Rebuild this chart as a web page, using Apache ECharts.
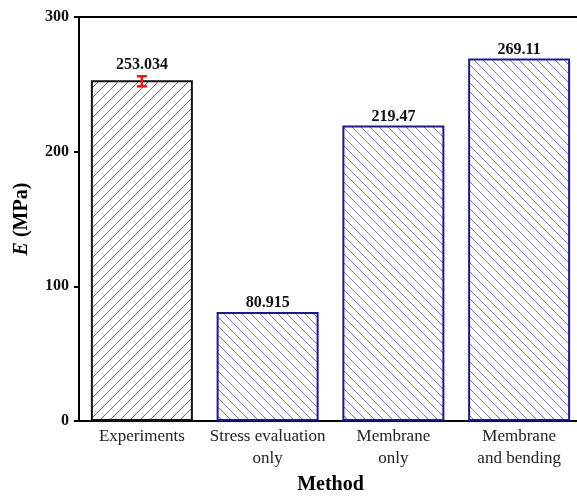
<!DOCTYPE html>
<html>
<head>
<meta charset="utf-8">
<script src="https://cdn.jsdelivr.net/npm/echarts@6/dist/echarts.min.js"></script>
<style>
  html, body { margin: 0; padding: 0; background: #fff; }
  #chart { width: 577px; height: 496px; }
</style>
</head>
<body>
<div id="chart"></div>
<script>
const categories = ['Experiments', 'Stress evaluation\nonly', 'Membrane\nonly', 'Membrane\nand bending'];
const values = [253.034, 80.915, 219.47, 269.11];
const errLow = [248.5];
const errHigh = [256.0];
const yTicks = [0, 100, 200, 300];

const FONT = "'Liberation Serif', 'Times New Roman', serif";

// hatch tiles for the bars
function hatch(color, dir, s) {
    const c = document.createElement('canvas');
    c.width = s; c.height = s;
    const ctx = c.getContext('2d');
    ctx.fillStyle = '#fff';
    ctx.fillRect(0, 0, s, s);
    ctx.strokeStyle = color;
    ctx.lineWidth = 1;
    ctx.beginPath();
    if (dir === '/') {
        ctx.moveTo(-1, s + 1); ctx.lineTo(s + 1, -1);
        ctx.moveTo(-1, 1); ctx.lineTo(1, -1);
        ctx.moveTo(s - 1, s + 1); ctx.lineTo(s + 1, s - 1);
    } else {
        ctx.moveTo(-1, -1); ctx.lineTo(s + 1, s + 1);
        ctx.moveTo(s - 1, -1); ctx.lineTo(s + 1, 1);
        ctx.moveTo(-1, s - 1); ctx.lineTo(1, s + 1);
    }
    ctx.stroke();
    return { image: c, repeat: 'repeat' };
}

const grayHatch = hatch('#6a6a6a', '/', 10);
const blueHatch = hatch('#7c7cc8', '\\', 9);

const barData = values.map(function (v, i) {
    const item = {
        value: v,
        itemStyle: i === 0
            ? { color: grayHatch, borderColor: '#111', borderWidth: 2 }
            : { color: blueHatch, borderColor: '#1a1a8a', borderWidth: 2 }
    };
    // the error bar sits on the first bar, lift its label clear of it
    if (i === 0) item.label = { distance: 7 };
    return item;
});

const errData = errLow.map(function (lo, i) { return [i, lo, errHigh[i]]; });

const chart = echarts.init(document.getElementById('chart'));
chart.setOption({
    animation: false,
    grid: {
        show: true,
        left: 79,
        top: 17,
        width: 503,
        height: 404,
        outerBoundsMode: 'none',
        containLabel: false,
        borderColor: '#000',
        borderWidth: 2,
        backgroundColor: 'transparent'
    },
    xAxis: {
        type: 'category',
        data: categories,
        name: 'Method',
        nameLocation: 'middle',
        nameGap: 53,
        nameTextStyle: { fontFamily: FONT, fontWeight: 'bold', fontSize: 20, color: '#000' },
        axisLine: { lineStyle: { color: '#000', width: 2 } },
        axisTick: { inside: true, alignWithLabel: true, length: 6, lineStyle: { color: '#000', width: 2 } },
        axisLabel: { interval: 0, fontFamily: FONT, fontSize: 17, color: '#222', lineHeight: 22, margin: 5 }
    },
    yAxis: {
        type: 'value',
        min: yTicks[0],
        max: yTicks[yTicks.length - 1],
        interval: 100,
        name: '{i|E} (MPa)',
        nameLocation: 'middle',
        nameGap: 47,
        nameRotate: 90,
        nameTextStyle: {
            fontFamily: FONT, fontWeight: 'bold', fontSize: 20, color: '#000',
            rich: { i: { fontFamily: FONT, fontWeight: 'bold', fontStyle: 'italic', fontSize: 20, color: '#000' } }
        },
        axisLine: { show: true, lineStyle: { color: '#000', width: 2 } },
        axisTick: { show: true, inside: false, length: 5, lineStyle: { color: '#000', width: 2 } },
        axisLabel: { fontFamily: FONT, fontWeight: 'bold', fontSize: 16, color: '#111', margin: 10 },
        splitLine: { show: false }
    },
    series: [
        {
            type: 'bar',
            data: barData,
            barWidth: 102,
            label: {
                show: true,
                position: 'top',
                distance: 1,
                fontFamily: FONT,
                fontWeight: 'bold',
                fontSize: 16,
                color: '#111'
            }
        },
        {
            type: 'custom',
            data: errData,
            z: 10,
            renderItem: function (params, api) {
                const x = api.coord([api.value(0), api.value(1)])[0];
                const yLo = api.coord([api.value(0), api.value(1)])[1];
                const yHi = api.coord([api.value(0), api.value(2)])[1];
                const hw = 5;
                const st = { stroke: '#e8141a', lineWidth: 2.5 };
                return {
                    type: 'group',
                    children: [
                        { type: 'line', shape: { x1: x, y1: yLo, x2: x, y2: yHi }, style: st },
                        { type: 'line', shape: { x1: x - hw, y1: yLo, x2: x + hw, y2: yLo }, style: st },
                        { type: 'line', shape: { x1: x - hw, y1: yHi, x2: x + hw, y2: yHi }, style: st }
                    ]
                };
            }
        }
    ]
});
</script>
</body>
</html>
